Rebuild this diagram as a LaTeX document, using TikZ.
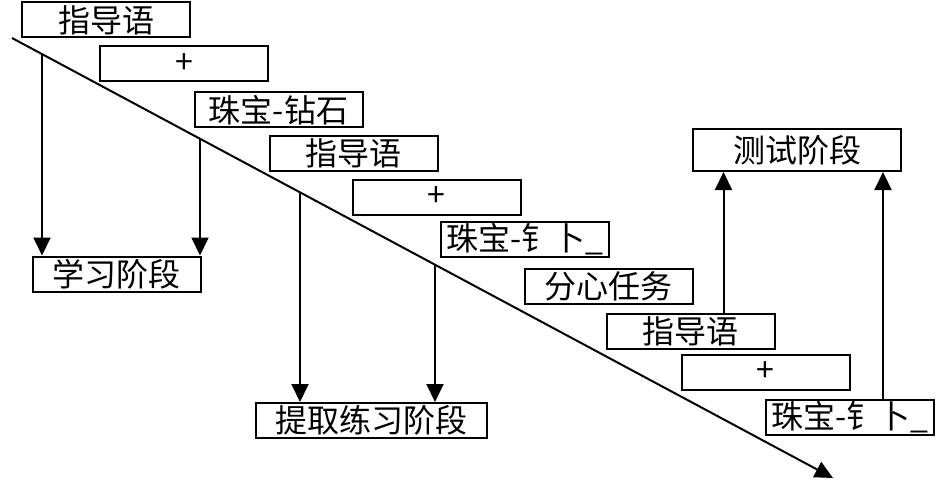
\documentclass[tikz,border=0pt]{standalone}
\usepackage{fontspec}
\newfontfamily\cjk{Noto Sans CJK SC}
\usetikzlibrary{arrows.meta}

\tikzset{
  stage/.style={draw, line width=2pt, minimum width=168pt, minimum height=35pt,
    inner sep=0pt, font=\cjk\fontsize{32}{32}\selectfont},
  arr/.style={line width=2pt, -{Triangle[width=17pt,length=18pt]}},
}

\begin{document}
\begin{tikzpicture}[x=1pt, y=-1pt]
        \useasboundingbox (0,0) rectangle (945,484);

        % one trial, step by step
        \node [stage] (cueA) at (106,20) {指导语};
        \node [stage] (plusA) at (184,64) {+};
        \node [stage] (pairA) at (278.5,110) {珠宝-钻石};
        \node [stage] (cueB) at (353.5,153.5) {指导语};
        \node [stage] (plusB) at (436.5,197) {+};
        \node [stage] (pairB) at (525,239) {珠宝-钅卜\_};
        \node [stage] (task) at (608.5,286) {分心任务};
        \node [stage] (cueC) at (690.5,331) {指导语};
        \node [stage] (plusC) at (765.5,372) {+};
        \node [stage] (pairC) at (850,417.5) {珠宝-钅卜\_};

        % phases
        \node [stage] (learn) at (116.5,274) {学习阶段};
        \node [stage, minimum width=231pt] (practice) at (371.5,420.5) {提取练习阶段};
        \node [stage, minimum width=208pt, minimum height=42pt] (test) at (797,150) {测试阶段};

        % time line
        \coordinate (t0) at (12,38);
        \coordinate (t1) at (833,478);
        \draw [arr] (t0) -- (t1);

        \coordinate (d1) at (42,54.1);
        \coordinate (d2) at (200,138.7);
        \coordinate (d3) at (300,192.3);
        \coordinate (d4) at (435,264.7);

        \draw [arr] (d1) -- (d1 |- learn.north);
        \draw [arr] (d2) -- (d2 |- learn.north);
        \draw [arr] (d3) -- (d3 |- practice.north);
        \draw [arr] (d4) -- (d4 |- practice.north);

        \draw [arr] ([xshift=118pt]cueC.north west) -- ([xshift=118pt]cueC.north west |- test.south);
        \draw [arr] ([xshift=118pt]pairC.north west) -- ([xshift=118pt]pairC.north west |- test.south);
\end{tikzpicture}
\end{document}
